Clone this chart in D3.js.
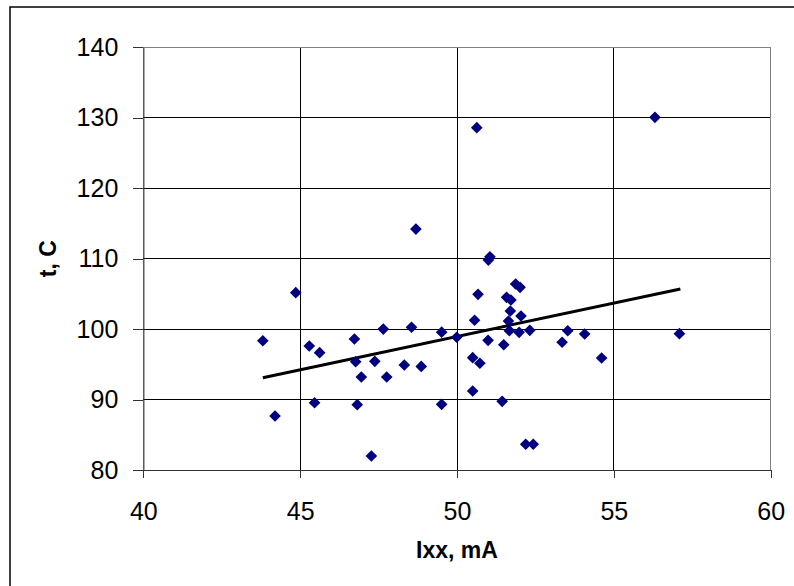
<!DOCTYPE html>
<html>
<head>
<meta charset="utf-8">
<script src="https://cdn.jsdelivr.net/npm/d3@7"></script>
<style>
    body { margin: 0; background: #fff; }
    svg { display: block; font-family: "Liberation Sans", Arial, sans-serif; }
</style>
</head>
<body>
<script>
// measured values (Ixx, mA ; t, C)
const ixx = [43.81, 44.2, 44.86, 45.29, 45.46, 45.62, 46.73, 46.77, 46.82, 46.95,
    47.27, 47.38, 47.65, 47.76, 48.32, 48.55, 48.69, 48.86, 49.51, 49.51,
    49.99, 50.5, 50.5, 50.56, 50.63, 50.67, 50.73, 50.99, 51.0, 51.05,
    51.44, 51.49, 51.58, 51.64, 51.67, 51.7, 51.72, 51.87, 51.98, 52.01,
    52.04, 52.19, 52.32, 52.43, 53.35, 53.53, 54.07, 54.61, 56.31, 57.09];
const temp = [98.35, 87.66, 105.17, 97.6, 89.55, 96.65, 98.6, 95.37, 89.27, 93.2,
    81.99, 95.43, 100.0, 93.2, 94.9, 100.26, 114.2, 94.7, 99.57, 89.32,
    98.84, 95.94, 91.21, 101.25, 128.59, 104.94, 95.15, 98.41, 109.8, 110.27,
    89.75, 97.78, 104.51, 101.15, 99.78, 102.57, 104.13, 106.4, 99.54, 105.93,
    101.86, 83.65, 99.83, 83.65, 98.13, 99.77, 99.3, 95.9, 130.06, 99.35];

// linear trend, ends
const trendX = [43.81, 57.12];
const trendY = [93.1, 105.7];

const xTicks = [40, 45, 50, 55, 60];
const yTicks = [80, 90, 100, 110, 120, 130, 140];

const W = 794, H = 586;
const margin = { left: 143.3, top: 47.3, right: W - 770.7, bottom: H - 470 };
const pw = W - margin.left - margin.right;
const ph = H - margin.top - margin.bottom;

const svg = d3.select("body").append("svg").attr("width", W).attr("height", H);

// chart frame
svg.append("rect")
    .attr("x", 10).attr("y", 7)
    .attr("width", 820).attr("height", 620)
    .attr("fill", "none").attr("stroke", "#000").attr("stroke-width", 1.5);

const x = d3.scaleLinear().domain([40, 60]).range([0, pw]);
const y = d3.scaleLinear().domain([80, 140]).range([ph, 0]);

const g = svg.append("g").attr("transform", `translate(${margin.left},${margin.top})`);

// grid
g.selectAll(".hgrid").data(yTicks.slice(1, -1)).enter().append("line")
    .attr("x1", 0).attr("x2", pw)
    .attr("y1", d => y(d)).attr("y2", d => y(d))
    .attr("stroke", "#000").attr("stroke-width", 1).attr("shape-rendering", "crispEdges");
g.selectAll(".vgrid").data(xTicks.slice(1, -1)).enter().append("line")
    .attr("y1", 0).attr("y2", ph)
    .attr("x1", d => x(d)).attr("x2", d => x(d))
    .attr("stroke", "#000").attr("stroke-width", 1).attr("shape-rendering", "crispEdges");

// plot border top / right
g.append("path")
    .attr("d", `M0,0H${pw}V${ph}`)
    .attr("fill", "none").attr("stroke", "#808080").attr("stroke-width", 1.5)
    .attr("shape-rendering", "crispEdges");

// axes
const xAxis = g.append("g").attr("transform", `translate(0,${ph})`)
    .call(d3.axisBottom(x).tickValues(xTicks).tickSize(8).tickPadding(24).tickSizeOuter(0));
const yAxis = g.append("g")
    .call(d3.axisLeft(y).tickValues(yTicks).tickSize(10).tickPadding(15).tickSizeOuter(0));

[xAxis, yAxis].forEach(a => {
    a.select(".domain").attr("stroke", "#333").attr("stroke-width", 1.2);
    a.selectAll(".tick line").attr("stroke", "#333").attr("shape-rendering", "crispEdges");
    a.selectAll("text").attr("fill", "#000").attr("font-size", 25)
        .attr("font-family", "'Liberation Sans', Arial, sans-serif");
});

// trend line
g.append("line")
    .attr("x1", x(trendX[0])).attr("y1", y(trendY[0]))
    .attr("x2", x(trendX[1])).attr("y2", y(trendY[1]))
    .attr("stroke", "#000").attr("stroke-width", 3);

// points
const diamond = d3.symbol().type(d3.symbolSquare).size(68);
g.selectAll(".pt").data(ixx).enter().append("path")
    .attr("class", "pt")
    .attr("d", diamond)
    .attr("fill", "#000080")
    .attr("transform", (d, i) => `translate(${x(d)},${y(temp[i])}) rotate(45)`);

// axis titles
svg.append("text")
    .attr("x", margin.left + pw / 2).attr("y", 558)
    .attr("text-anchor", "middle")
    .attr("font-size", 23).attr("font-weight", "bold")
    .text("Ixx, mA");

svg.append("text")
    .attr("transform", `translate(55.5,${margin.top + ph / 2}) rotate(-90)`)
    .attr("text-anchor", "middle")
    .attr("font-size", 23).attr("font-weight", "bold")
    .text("t, C");
</script>
</body>
</html>
